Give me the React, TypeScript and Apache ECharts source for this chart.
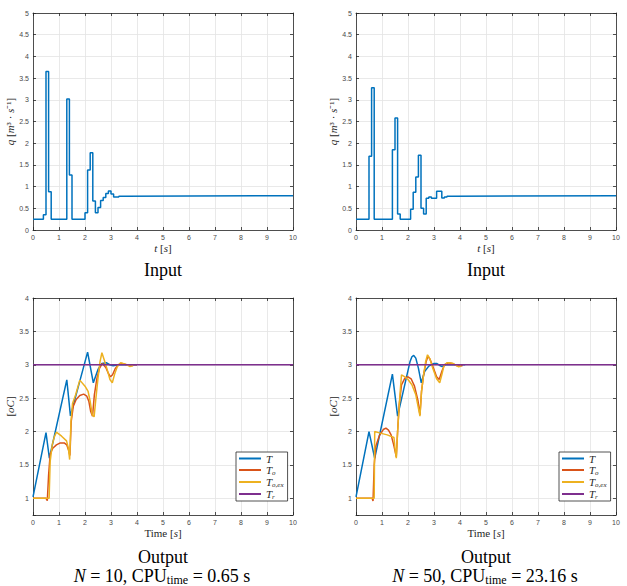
import React, { useEffect, useRef } from 'react';
import * as echarts from 'echarts';

// ---------- data ----------
const timeTicks = [0, 1, 2, 3, 4, 5, 6, 7, 8, 9, 10];

// Input flow q [m^3/s] (zero-order hold: each value holds until the next time)
const inputN10: [number, number][] = [
  [0, 0.25], [0.4, 0.35], [0.5, 3.65], [0.6, 0.88], [0.7, 0.25], [1.3, 3.02], [1.4, 1.27],
  [1.5, 0.25], [2.0, 0.4], [2.1, 1.38], [2.2, 1.78], [2.3, 0.67], [2.4, 0.4], [2.5, 0.52],
  [2.6, 0.68], [2.7, 0.75], [2.8, 0.84], [2.9, 0.9], [3.0, 0.83], [3.1, 0.76], [3.3, 0.78],
  [3.5, 0.79], [10, 0.79],
];
const inputN50: [number, number][] = [
  [0, 0.25], [0.5, 1.7], [0.6, 3.28], [0.7, 0.25], [1.4, 1.85], [1.5, 2.58], [1.6, 0.37],
  [1.7, 0.25], [2.1, 0.48], [2.2, 0.87], [2.3, 1.22], [2.4, 1.72], [2.5, 0.5], [2.6, 0.37],
  [2.7, 0.73], [2.8, 0.76], [2.9, 0.73], [3.1, 0.89], [3.3, 0.74], [3.4, 0.76], [3.5, 0.78],
  [3.7, 0.79], [10, 0.79],
];

// Output temperatures, N = 10
const tN10: [number, number][] = [
  [0, 1.02], [0.5, 1.985], [0.63, 1.6], [1.3, 2.775], [1.44, 2.235], [2.1, 3.19], [2.32, 2.73],
  [2.5, 2.93], [2.65, 3.02], [2.82, 3.03], [2.95, 3.0], [3.08, 2.985], [3.3, 3.0], [4.0, 3.0],
];
const toN10: [number, number][] = [
  [0, 1.0], [0.5, 1.0], [0.55, 0.965], [0.6, 1.35], [0.66, 1.66], [0.76, 1.75], [0.9, 1.8],
  [1.05, 1.83], [1.2, 1.83], [1.3, 1.8], [1.37, 1.72], [1.42, 1.64], [1.47, 2.15], [1.55, 2.38],
  [1.66, 2.48], [1.8, 2.54], [1.95, 2.56], [2.07, 2.53], [2.15, 2.45], [2.22, 2.3], [2.29, 2.23],
  [2.36, 2.55], [2.46, 2.8], [2.56, 2.95], [2.67, 3.02], [2.8, 2.96], [2.9, 2.87], [2.98, 2.82],
  [3.06, 2.85], [3.16, 2.94], [3.28, 3.0], [3.42, 3.02], [3.6, 3.0], [4.0, 3.0],
];
const toexN10: [number, number][] = [
  [0, 1.0], [0.62, 1.0], [0.66, 1.55], [0.74, 1.8], [0.82, 1.92], [0.9, 1.99], [1.1, 1.93],
  [1.29, 1.86], [1.36, 1.75], [1.41, 1.58], [1.46, 2.15], [1.52, 2.42], [1.64, 2.55], [1.8, 2.77],
  [2.0, 2.68], [2.12, 2.6], [2.2, 2.45], [2.28, 2.25], [2.35, 2.22], [2.42, 2.5], [2.5, 2.8],
  [2.58, 3.05], [2.65, 3.18], [2.75, 3.06], [2.86, 2.92], [2.96, 2.78], [3.05, 2.73], [3.14, 2.86],
  [3.24, 2.97], [3.37, 3.03], [3.55, 3.01], [3.72, 2.975], [3.85, 2.985],
];

// Output temperatures, N = 50
const tN50: [number, number][] = [
  [0, 1.02], [0.5, 2.0], [0.72, 1.6], [1.4, 2.86], [1.6, 2.23], [2.08, 3.05], [2.15, 3.12],
  [2.22, 3.14], [2.3, 3.1], [2.4, 2.95], [2.51, 2.73], [2.64, 2.9], [2.8, 2.98], [3.0, 3.02],
  [3.1, 3.02], [3.22, 2.99], [3.31, 2.975], [3.45, 3.0], [4.2, 3.0],
];
const toN50: [number, number][] = [
  [0, 1.0], [0.62, 1.0], [0.655, 0.96], [0.7, 1.5], [0.76, 1.78], [0.9, 1.94], [1.05, 2.03],
  [1.15, 2.05], [1.25, 2.02], [1.35, 1.95], [1.45, 1.8], [1.55, 1.62], [1.6, 2.0], [1.66, 2.4],
  [1.75, 2.7], [1.88, 2.8], [2.0, 2.82], [2.12, 2.79], [2.25, 2.68], [2.38, 2.47], [2.46, 2.25],
  [2.52, 2.6], [2.6, 2.85], [2.7, 3.05], [2.77, 3.13], [2.85, 3.08], [2.95, 2.98], [3.1, 2.82],
  [3.2, 2.78], [3.3, 2.9], [3.4, 3.0], [3.55, 3.03], [3.7, 3.02], [3.85, 2.99], [4.0, 2.98],
  [4.1, 2.99],
];
const toexN50: [number, number][] = [
  [0, 1.0], [0.7, 1.0], [0.72, 2.0], [0.9, 1.98], [1.2, 1.95], [1.46, 1.91], [1.5, 1.75],
  [1.55, 1.6], [1.6, 2.0], [1.64, 2.25], [1.7, 2.6], [1.75, 2.85], [1.88, 2.82], [2.0, 2.78],
  [2.15, 2.7], [2.3, 2.55], [2.4, 2.35], [2.46, 2.23], [2.52, 2.6], [2.6, 2.85], [2.68, 3.05],
  [2.75, 3.15], [2.85, 3.08], [2.95, 2.95], [3.1, 2.79], [3.22, 2.73], [3.3, 2.85], [3.38, 2.98],
  [3.5, 3.03], [3.6, 3.03], [3.73, 3.02], [3.85, 2.99], [3.95, 2.97], [4.05, 2.98],
];
const refTemp: [number, number][] = [[0, 3], [10, 3]];

const legendNames = ['T', 'T_o', 'T_o,ex', 'T_r'];
const legendRich: Record<string, string> = {
  T: '{i|T}',
  T_o: '{i|T}{s|o}',
  'T_o,ex': '{i|T}{s|o,ex}',
  T_r: '{i|T}{s|r}',
};
const captionTop = 'Input';
const captionBottom = 'Output';
const cpuN10 = '{i|N} = 10, CPU{s|time} = 0.65 s';
const cpuN50 = '{i|N} = 50, CPU{s|time} = 23.16 s';

// ---------- styles ----------
const COLORS = ['#0072BD', '#D95319', '#EDB120', '#7E2F8E'];
const AXIS = '#262626';
const GRIDC = '#e3e3e3';
const SERIF = 'Liberation Serif';
const SANS = 'Liberation Sans';

const gridsPos = [
  { left: 33, top: 13 },
  { left: 356, top: 13 },
  { left: 33, top: 298 },
  { left: 356, top: 298 },
];

const nameRich = {
  i: { fontFamily: SERIF, fontStyle: 'italic', fontSize: 11, color: AXIS },
};

function makeX(gi: number, name: string) {
  const base = {
    type: 'value',
    gridIndex: gi,
    min: 0,
    max: 10,
    interval: 1,
    axisLine: { show: true, onZero: false, lineStyle: { color: AXIS, width: 0.8 } },
    axisTick: { show: true, inside: true, length: 3, lineStyle: { color: AXIS, width: 0.8 } },
  };
  return [
    {
      ...base,
      position: 'bottom',
      name,
      nameLocation: 'middle',
      nameGap: 12,
      nameTextStyle: { fontFamily: SERIF, fontSize: 11, color: AXIS, rich: nameRich },
      axisLabel: { fontFamily: SANS, fontSize: 7, color: '#4a4a4a', margin: 4 },
      splitLine: { show: true, lineStyle: { color: GRIDC, width: 0.8 } },
    },
    {
      ...base,
      position: 'top',
      axisLabel: { show: false },
      splitLine: { show: false },
    },
  ];
}

function makeY(gi: number, name: string, top: boolean) {
  const base: any = {
    type: 'value',
    gridIndex: gi,
    axisLine: { show: true, onZero: false, lineStyle: { color: AXIS, width: 0.8 } },
    axisTick: { show: true, inside: true, length: 3, lineStyle: { color: AXIS, width: 0.8 } },
  };
  if (top) {
    base.min = 0;
    base.max = 5;
    base.interval = 0.5;
  } else {
    base.min = 0.75;
    base.max = 4;
    base.splitNumber = 6;
  }
  return [
    {
      ...base,
      position: 'left',
      name,
      nameLocation: 'middle',
      nameGap: top ? 15 : 17,
      nameRotate: 90,
      nameTextStyle: { fontFamily: SERIF, fontSize: 11, color: AXIS, rich: nameRich },
      axisLabel: {
        fontFamily: SANS,
        fontSize: 7,
        color: '#4a4a4a',
        margin: 4,
        formatter: (v: number) => (Math.abs(v - 0.75) < 1e-9 ? '' : String(v)),
      },
      splitLine: { show: true, lineStyle: { color: GRIDC, width: 0.8 } },
    },
    {
      ...base,
      position: 'right',
      axisLabel: { show: false },
      splitLine: { show: false },
    },
  ];
}

function lineSeries(name: string, data: [number, number][], gi: number, color: string, step?: string) {
  return {
    type: 'line',
    name,
    data,
    xAxisIndex: gi * 2,
    yAxisIndex: gi * 2,
    showSymbol: false,
    symbol: 'none',
    step: step || false,
    lineStyle: { color, width: 1.5 },
    itemStyle: { color },
    z: 3,
  };
}

function makeLegend(left: number) {
  return {
    data: legendNames,
    orient: 'vertical',
    left,
    top: 452,
    icon: 'rect',
    itemWidth: 22,
    itemHeight: 2,
    itemGap: 0,
    padding: [1, 4, 1, 3],
    borderColor: AXIS,
    borderWidth: 0.8,
    backgroundColor: '#ffffff',
    formatter: (n: string) => legendRich[n] || n,
    textStyle: {
      fontFamily: SERIF,
      fontSize: 11,
      color: AXIS,
      rich: {
        i: { fontFamily: SERIF, fontStyle: 'italic', fontSize: 11, lineHeight: 12, color: AXIS },
        s: { fontFamily: SERIF, fontStyle: 'italic', fontSize: 7, lineHeight: 7, padding: [5, 0, 0, 0], color: AXIS },
      },
    },
    selectedMode: false,
  };
}

const CAP = 18;
const capRich = {
  i: { fontFamily: SERIF, fontStyle: 'italic', fontSize: CAP, fill: '#000', lineHeight: 20 },
  s: { fontFamily: SERIF, fontSize: 12, fill: '#000', lineHeight: 12, padding: [7, 0, 0, 0] },
};

function caption(x: number, y: number, text: string) {
  return {
    type: 'text',
    x,
    y,
    style: {
      text,
      font: `${CAP}px "${SERIF}"`,
      fill: '#000',
      align: 'center',
      verticalAlign: 'middle',
      rich: capRich,
    },
  };
}

export default function App() {
  const ref = useRef<HTMLDivElement>(null);
  useEffect(() => {
    const chart = echarts.init(ref.current!, null, { renderer: 'svg' });
    const option: any = {
      animation: false,
      backgroundColor: '#ffffff',
      grid: gridsPos.map((g) => ({ left: g.left, top: g.top, width: 260, height: 217, containLabel: false })),
      xAxis: [
        ...makeX(0, '{i|t} [{i|s}]'),
        ...makeX(1, '{i|t} [{i|s}]'),
        ...makeX(2, 'Time [{i|s}]'),
        ...makeX(3, 'Time [{i|s}]'),
      ],
      yAxis: [
        ...makeY(0, '{i|q} [{i|m}³ · {i|s}⁻¹]', true),
        ...makeY(1, '{i|q} [{i|m}³ · {i|s}⁻¹]', true),
        ...makeY(2, '[{i|oC}]', false),
        ...makeY(3, '[{i|oC}]', false),
      ],
      legend: [makeLegend(236), makeLegend(559)],
      series: [
        lineSeries('q10', inputN10, 0, COLORS[0], 'end'),
        lineSeries('q50', inputN50, 1, COLORS[0], 'end'),
        lineSeries('T', tN10, 2, COLORS[0]),
        lineSeries('T_o', toN10, 2, COLORS[1]),
        lineSeries('T_o,ex', toexN10, 2, COLORS[2]),
        lineSeries('T_r', refTemp, 2, COLORS[3]),
        lineSeries('T', tN50, 3, COLORS[0]),
        lineSeries('T_o', toN50, 3, COLORS[1]),
        lineSeries('T_o,ex', toexN50, 3, COLORS[2]),
        lineSeries('T_r', refTemp, 3, COLORS[3]),
      ],
      graphic: [
        caption(163, 270, captionTop),
        caption(486, 270, captionTop),
        caption(163, 557, captionBottom),
        caption(486, 557, captionBottom),
        caption(162, 576, cpuN10),
        caption(485, 576, cpuN50),
      ],
    };
    chart.setOption(option);
    return () => chart.dispose();
  }, []);
  return (
    <div
      ref={ref}
      style={{ position: 'fixed', left: 0, top: 0, width: 627, height: 586, background: '#fff' }}
    />
  );
}
